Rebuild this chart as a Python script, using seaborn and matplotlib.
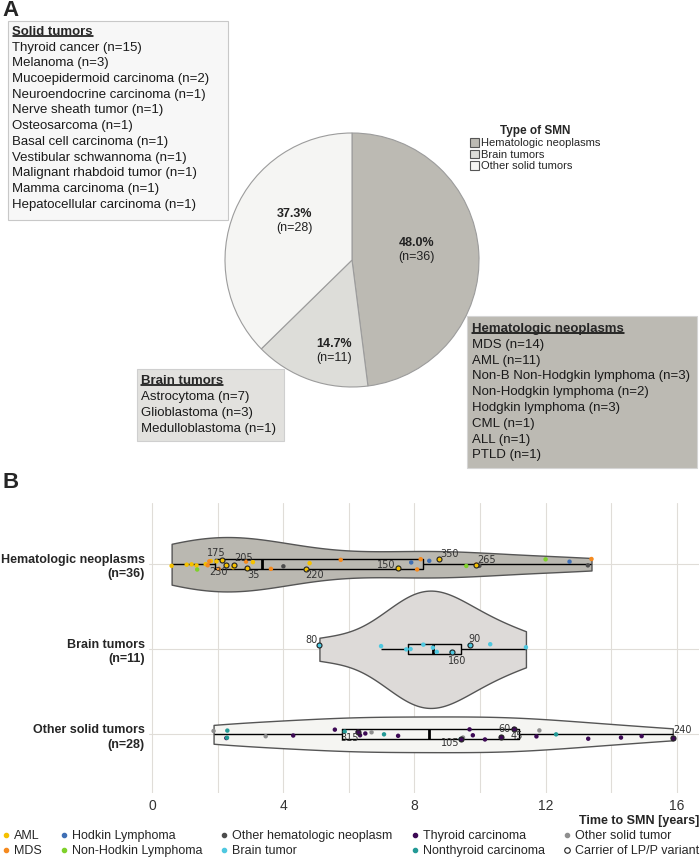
import matplotlib
matplotlib.use('Agg')
import matplotlib.pyplot as plt
from matplotlib.lines import Line2D
from matplotlib.patches import Patch, Rectangle
import numpy as np
import pandas as pd
import seaborn as sns

sns.set_theme(style='white')
plt.rcParams['font.family'] = ['Liberation Sans', 'DejaVu Sans']

# ---- panel A: type of SMN
smn_types = ['Hematologic neoplasms', 'Brain tumors', 'Other solid tumors']
smn_counts = [36, 11, 28]

solid_title = 'Solid tumors'
solid_items = ['Thyroid cancer (n=15)', 'Melanoma (n=3)', 'Mucoepidermoid carcinoma (n=2)',
               'Neuroendocrine carcinoma (n=1)', 'Nerve sheath tumor (n=1)', 'Osteosarcoma (n=1)',
               'Basal cell carcinoma (n=1)', 'Vestibular schwannoma (n=1)',
               'Malignant rhabdoid tumor (n=1)', 'Mamma carcinoma (n=1)',
               'Hepatocellular carcinoma (n=1)']
brain_title = 'Brain tumors'
brain_items = ['Astrocytoma (n=7)', 'Glioblastoma (n=3)', 'Medulloblastoma (n=1)']
heme_title = 'Hematologic neoplasms'
heme_items = ['MDS (n=14)', 'AML (n=11)', 'Non-B Non-Hodgkin lymphoma (n=3)',
              'Non-Hodgkin lymphoma (n=2)', 'Hodgkin lymphoma (n=3)', 'CML (n=1)',
              'ALL (n=1)', 'PTLD (n=1)']

# ---- panel B: time to SMN (years) per subtype
aml = [0.59, 1.05, 1.2, 1.35, 1.63, 1.79, 1.96, 2.26, 2.47, 3.07, 4.8]
mds = [1.69, 1.74, 2.03, 2.13, 2.5, 2.86, 2.89, 3.62, 5.75, 8.08, 8.19, 8.76, 9.88, 13.4]
hodgkin = [7.9, 8.45, 12.73]
non_hodgkin = [1.37, 4.69, 7.5, 9.58, 12.0]
other_heme = [4.0, 9.98, 13.29]
brain = [5.1, 6.98, 7.75, 7.88, 8.27, 8.56, 8.68, 9.13, 9.68, 10.31, 11.4]
thyroid = [2.26, 4.3, 5.57, 6.27, 6.34, 6.5, 7.5, 9.68, 9.78, 10.15, 11.03, 11.72, 13.3,
           14.3, 14.93]
nonthyroid = [2.28, 2.29, 5.87, 7.07, 9.41, 12.32]
other_solid = [1.87, 3.46, 6.69, 9.48, 10.64, 11.81, 15.88]

# carriers of LP/P variant: row, time, patient id
carrier_row = [0, 0, 0, 0, 0, 0, 0, 0, 1, 1, 1, 2, 2, 2, 2, 2]
carrier_time = [2.13, 2.26, 2.5, 2.89, 4.69, 7.5, 8.76, 9.88, 5.1, 9.13, 9.68,
                6.27, 9.41, 10.64, 11.03, 15.88]
carrier_id = ['175', '230', '205', '35', '220', '150', '350', '265', '80', '160', '90',
              '315', '105', '60', '45', '240']

# ---- styles
W, H = 700, 860
pie_colors = ['#bcbab3', '#ddddd9', '#f5f5f3']
violin_colors = ['#bab8b1', '#dddad8', '#f5f5f2']
violin_width = [0.64, 1.38, 0.42]
palette = {'AML': '#f5c100', 'MDS': '#f58a1f', 'Hodkin Lymphoma': '#3f6fb5',
           'Non-Hodkin Lymphoma': '#7fd12b', 'Other hematologic neoplasm': '#4d4d4d',
           'Brain tumor': '#4fc8e0', 'Thyroid carcinoma': '#3d0a55',
           'Nonthyroid carcinoma': '#239a96', 'Other solid tumor': '#8f8f8f'}
label_offset = {'175': (-6, 7), '205': (9, 7), '230': (-8, -7), '35': (6, -7),
                '220': (9, -6), '150': (-12, 3), '350': (10, 5), '265': (10, 5),
                '80': (-8, 5), '90': (5, 6), '160': (6, -9), '315': (-8, -6),
                '105': (-11, -4), '60': (3, 8), '45': (3, -7), '240': (10, 8)}
# which side of the row line each carrier sits on (+1 below, -1 above)
carrier_side = {'175': -1, '230': 1, '205': -1, '35': 1, '220': 1, '150': 1, '350': 0,
                '265': 0, '80': -1, '160': 1, '90': -1, '315': 1, '105': 1, '60': 0,
                '45': 1, '240': 0}

subtype_data = [aml, mds, hodgkin, non_hodgkin, other_heme, brain, thyroid, nonthyroid, other_solid]
subtype_row = [0, 0, 0, 0, 0, 1, 2, 2, 2]
rows = []
for name, vals, r in zip(palette, subtype_data, subtype_row):
    for v in vals:
        rows.append({'group': smn_types[r], 'subtype': name, 'time': v})
df = pd.DataFrame(rows)

strip_kw = dict(data=df, x='time', y='group', order=smn_types, hue='subtype',
                hue_order=list(palette), palette=palette, jitter=0.065, size=3.2,
                linewidth=0, legend=False)


def carrier_points(colls):
    out = []
    for coll in colls:
        fc = coll.get_facecolor()[0]
        for x, y in coll.get_offsets():
            for r, t, pid in zip(carrier_row, carrier_time, carrier_id):
                if int(round(y)) == r and abs(x - t) < 1e-6:
                    out.append((x, y, r, pid, fc))
    return out


# pick a jitter seed that puts the carriers on the same side as in the paper
best_seed, best_score = 0, -np.inf
tf, ta = plt.subplots()
for seed in range(80):
    np.random.seed(seed)
    ta.cla()
    sns.stripplot(ax=ta, **strip_kw)
    score = sum(carrier_side[pid] * (y - r) for x, y, r, pid, fc in carrier_points(ta.collections))
    if score > best_score:
        best_seed, best_score = seed, score
plt.close(tf)


def px(x, y):
    return x / W, 1 - y / H


fig = plt.figure(figsize=(7, 8.6), dpi=100)

# ---------------- panel A
fig.text(*px(2, 11), 'A', fontsize=16, fontweight='bold', va='center')
fig.text(*px(2, 482), 'B', fontsize=16, fontweight='bold', va='center')

r_px = 127
pax = fig.add_axes([(352 - r_px * 1.01) / W, 1 - (260 + r_px * 1.01) / H,
                    2.02 * r_px / W, 2.02 * r_px / H])
wedges, _ = pax.pie(smn_counts, colors=pie_colors, startangle=90, counterclock=False,
                    wedgeprops=dict(edgecolor='#9c9c9c', linewidth=0.8))
pax.set_xlim(-1.01, 1.01)
pax.set_ylim(-1.01, 1.01)
pie_label_xy = [(0.51, 0.08), (-0.14, -0.72), (-0.45, 0.31)]
total = sum(smn_counts)
for (lx, ly), c in zip(pie_label_xy, smn_counts):
    pax.text(lx, ly + 0.055, f'{100 * c / total:.1f}%', ha='center', va='center',
             fontsize=9, fontweight='bold', color='#222222')
    pax.text(lx, ly - 0.055, f'(n={c})', ha='center', va='center', fontsize=9,
             color='#222222')

fig.legend(handles=[Patch(fc=c, ec='#555555', lw=0.8, label=l)
                    for c, l in zip(pie_colors, smn_types)],
           title='Type of SMN', loc='upper left', bbox_to_anchor=px(470, 125),
           frameon=False, fontsize=8, title_fontproperties={'weight': 'bold', 'size': 8.5},
           handlelength=0.8, handleheight=0.8, handletextpad=0.2, labelspacing=0.12,
           borderpad=0, borderaxespad=0)


def text_box(x0, y0, x1, y1, fc, ec, title, items, tx, ty, step):
    fig.add_artist(Rectangle(px(x0, y1), (x1 - x0) / W, (y1 - y0) / H,
                             transform=fig.transFigure, fc=fc, ec=ec, lw=0.8))
    t = fig.text(*px(tx, ty), title, fontsize=9.5, fontweight='bold', va='center')
    for i, item in enumerate(items):
        fig.text(*px(tx, ty + (i + 1) * step), item, fontsize=9.5, va='center',
                 color='#1a1a1a')
    return t


titles = [
    text_box(8, 21, 228, 220, '#f7f7f7', '#c8c8c8', solid_title, solid_items, 12.5, 32, 15.7),
    text_box(137, 369, 284, 441, '#e2e1de', '#cfcfcf', brain_title, brain_items, 141, 381, 16),
    text_box(467, 316, 697, 468, '#bcbab3', '#d5d5d5', heme_title, heme_items, 472, 329, 15.8),
]

# ---------------- panel B
ax = fig.add_axes([149 / W, 1 - 793 / H, 550 / W, 290 / H])
for g, c, w in zip(smn_types, violin_colors, violin_width):
    sns.violinplot(data=df[df.group == g], x='time', y='group', order=smn_types, cut=0,
                   inner=None, color=c, linecolor='#555555', linewidth=1, width=w,
                   saturation=1, ax=ax)
sns.boxplot(data=df, x='time', y='group', order=smn_types, width=0.12, fill=False,
            color='black', linewidth=1, showcaps=False, showfliers=False,
            medianprops={'linewidth': 2}, ax=ax)

np.random.seed(best_seed)
n0 = len(ax.collections)
sns.stripplot(ax=ax, zorder=5, **strip_kw)

for x, y, r, pid, fc in carrier_points(ax.collections[n0:]):
    ax.scatter(x, y, s=13, color=fc, edgecolor='#222222', linewidth=0.8, zorder=6)
    ax.annotate(pid, (x, y), xytext=label_offset[pid], textcoords='offset pixels',
                ha='center', va='center', fontsize=7, color='#333333',
                family='DejaVu Sans', zorder=7)

ax.set_xlim(-0.1, 16.68)
ax.set_ylim(2.69, -0.72)
ax.set_xticks([0, 4, 8, 12, 16])
ax.set_xticks([2, 6, 10, 14], minor=True)
ax.grid(True, which='both', axis='x', color='#e0ddd8', lw=0.8)
ax.grid(True, which='major', axis='y', color='#e0ddd8', lw=0.8)
ax.set_axisbelow(True)
for s in ax.spines.values():
    s.set_visible(False)
ax.tick_params(which='both', length=0)
ax.tick_params(axis='x', labelsize=10, labelcolor='#333333', pad=4)
ax.set_yticks(range(3))
ax.set_yticklabels([f'{g}\n(n={c})' for g, c in zip(smn_types, smn_counts)],
                   fontsize=9, fontweight='bold', linespacing=1.3)
for lab in ax.get_yticklabels():
    lab.set_multialignment('right')
ax.tick_params(axis='y', pad=3)
ax.set_ylabel('')
ax.set_xlabel('Time to SMN [years]', loc='right', fontsize=9, fontweight='bold', labelpad=2)

handles = [Line2D([], [], marker='o', ls='none', ms=3, color=c, label=l)
           for l, c in palette.items()]
handles.append(Line2D([], [], marker='o', ls='none', ms=4, mfc='white', mec='#222222',
                      mew=0.8, label='Carrier of LP/P variant'))
fig.legend(handles=handles, loc='upper left', bbox_to_anchor=px(3, 830), ncol=5,
           frameon=False, fontsize=9, handlelength=0.5, handletextpad=0.4,
           columnspacing=1.5, labelspacing=0.25, borderpad=0, borderaxespad=0)

# underline the box titles
fig.canvas.draw()
for t in titles:
    bb = t.get_window_extent()
    fig.add_artist(Line2D([bb.x0 / W, bb.x1 / W], [(bb.y0 + 2) / H] * 2,
                          transform=fig.transFigure, color='black', lw=1.1))

fig.savefig('out.png', dpi=100)
